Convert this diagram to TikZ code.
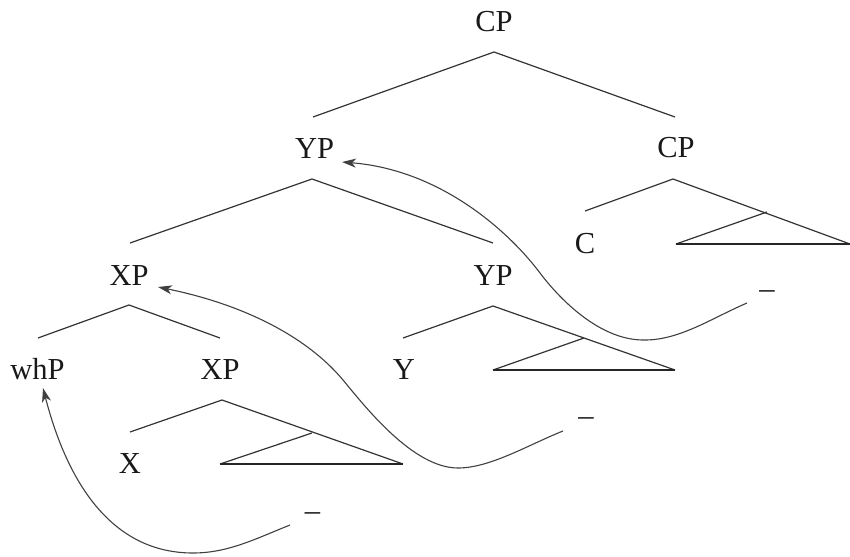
\documentclass[tikz,border=0pt]{standalone}
\usepackage{fontspec}
\setmainfont{Liberation Serif}
\usetikzlibrary{arrows.meta}

\tikzset{
  label/.style={anchor=base, inner sep=0pt, font=\fontsize{30.5}{36}\selectfont, text=black!90},
  branch/.style={draw=black!80, line width=1.2pt, line join=miter},
  base/.style={draw=black!85, line width=1.8pt},
  move/.style={draw=black!75, line width=1.1pt, -{Stealth[length=14pt,width=9pt,inset=4pt]}},
}

\begin{document}
\begin{tikzpicture}[x=1pt, y=-1pt]
\useasboundingbox (0,0) rectangle (850,556);

% category labels
\node[label] (cp0)  at (494,32)    {CP};
\node[label] (yp1)  at (314.5,158) {YP};
\node[label] (cp1)  at (676,157.5) {CP};
\node[label] (c)    at (585,253)   {C};
\node[label] (xp1)  at (129,285)   {XP};
\node[label] (yp2)  at (493,285)   {YP};
\node[label] (whp)  at (37.5,379)  {whP};
\node[label] (xp2)  at (220,379)   {XP};
\node[label] (y)    at (404,379)   {Y};
\node[label] (x)    at (130,473)   {X};

% traces
\node[label] (t1) at (767,298.5)  {–};
\node[label] (t2) at (586,425.5)  {–};
\node[label] (t3) at (312.5,520.5) {–};

% branching points
\coordinate (cp0-a) at (494,52);
\coordinate (cp0-l) at (313,117);
\coordinate (cp0-r) at (675,117);

\coordinate (yp1-a) at (312,179);
\coordinate (yp1-l) at (130,243);
\coordinate (yp1-r) at (493,243);

\coordinate (cp1-a) at (673,179);
\coordinate (cp1-l) at (585,211);
\coordinate (cp1-r) at (850,244);
\coordinate (cp1-t) at (767,212);
\coordinate (cp1-s) at (676,244);

\coordinate (xp1-a) at (129,305);
\coordinate (xp1-l) at (38,338);
\coordinate (xp1-r) at (220,338);

\coordinate (yp2-a) at (493,306);
\coordinate (yp2-l) at (403,338);
\coordinate (yp2-r) at (675,370);
\coordinate (yp2-t) at (584,338);
\coordinate (yp2-s) at (493,370);

\coordinate (xp2-a) at (222,400);
\coordinate (xp2-l) at (130,432);
\coordinate (xp2-r) at (403,464);
\coordinate (xp2-t) at (312,433);
\coordinate (xp2-s) at (220,464);

% branches
\draw[branch] (cp0-l) -- (cp0-a) -- (cp0-r);
\draw[branch] (yp1-l) -- (yp1-a) -- (yp1-r);
\draw[branch] (cp1-l) -- (cp1-a) -- (cp1-r);
\draw[branch] (xp1-l) -- (xp1-a) -- (xp1-r);
\draw[branch] (yp2-l) -- (yp2-a) -- (yp2-r);
\draw[branch] (xp2-l) -- (xp2-a) -- (xp2-r);

% triangles for unanalysed constituents
\draw[branch] (cp1-s) -- (cp1-t);
\draw[base]   (cp1-s) -- (cp1-r);
\draw[branch] (yp2-s) -- (yp2-t);
\draw[base]   (yp2-s) -- (yp2-r);
\draw[branch] (xp2-s) -- (xp2-t);
\draw[base]   (xp2-s) -- (xp2-r);

% movement arrows: start and end points
\coordinate (m1-s) at (747,303);
\coordinate (m1-e) at (342,162);
\coordinate (m2-s) at (563,431);
\coordinate (m2-e) at (158,287);
\coordinate (m3-s) at (290,525);
\coordinate (m3-e) at (43,388);

\draw[move] (m1-s) .. controls (712,318) and (680,340) .. (645,340)
                   .. controls (595,341) and (552,289) .. (540,273)
                   .. controls (510,233) and (442,170) .. (m1-e);

\draw[move] (m2-s) .. controls (528,445) and (490,468) .. (458,468)
                   .. controls (413,468) and (365.4,407) .. (343,380)
                   .. controls (308,338) and (246,305) .. (m2-e);

\draw[move] (m3-s) .. controls (255,539) and (228,553) .. (193,553)
                   .. controls (113,553) and (68,485) .. (m3-e);
\end{tikzpicture}
\end{document}
